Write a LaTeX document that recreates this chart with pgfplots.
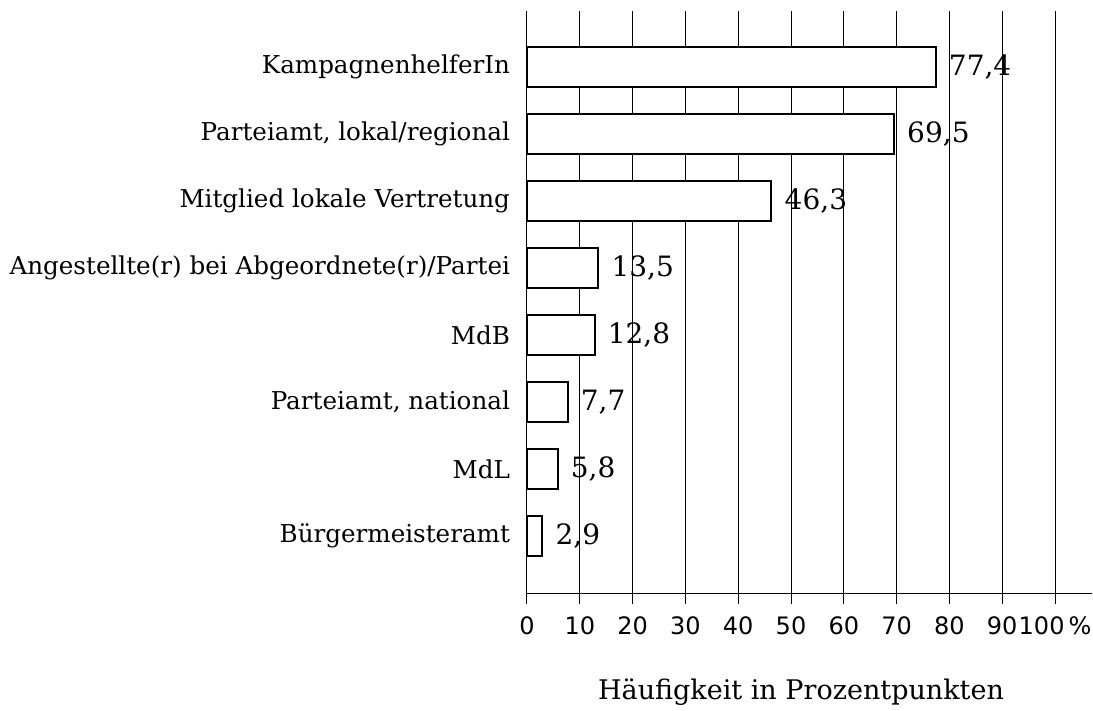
\documentclass[border=0pt]{standalone}
\usepackage{fontspec}
\setmainfont{DejaVu Serif}
\newfontfamily\sansf{DejaVu Sans}
\usepackage{pgfplots}
\pgfplotsset{compat=1.18}
\begin{document}
\begin{tikzpicture}
\useasboundingbox (-263.5pt,-58.5pt) rectangle (283pt,297pt);
\begin{axis}[
  at={(0,0)}, anchor=south west,
  scale only axis,
  width=282.5pt, height=291.5pt,
  xmin=0, xmax=107,
  ymin=-0.866, ymax=7.836,
  axis x line*=bottom,
  axis y line*=left,
  y axis line style={draw=none},
  x axis line style={line width=0.5pt,-},
  xtick={0,10,...,100},
  xticklabels={0,10,20,30,40,50,60,70,80,90,100\,\%},
  tick align=outside,
  major tick length=5pt,
  xtick style={line width=0.5pt,black},
  ytick={0,...,7},
  yticklabels={B\"urgermeisteramt,MdL,{Parteiamt, national},MdB,Angestellte(r) bei Abgeordnete(r)/Partei,Mitglied lokale Vertretung,{Parteiamt, lokal/regional},KampagnenhelferIn},
  ytick style={draw=none},
  xmajorgrids,
  grid style={line width=0.5pt,black},
  xticklabel style={font=\sansf\fontsize{12pt}{14pt}\selectfont, yshift=-3pt},
  yticklabel style={font=\fontsize{12.3pt}{14pt}\selectfont, anchor=east},
  xlabel={H\"aufigkeit in Prozentpunkten},
  xlabel style={font=\fontsize{13.5pt}{16pt}\selectfont, at={(rel axis cs:0.485,0)}, anchor=base, yshift=-53pt},
  xbar, bar width=0.59,
  point meta=explicit symbolic,
  nodes near coords,
  nodes near coords style={font=\fontsize{14pt}{16pt}\selectfont, anchor=west, xshift=2.8pt},
  clip=false,
]
\addplot[draw=black, fill=white, line width=1pt] table[meta=label] {
x y label
77.4 7 77,4
69.5 6 69,5
46.3 5 46,3
13.5 4 13,5
12.8 3 12,8
7.7 2 7,7
5.8 1 5,8
2.9 0 2,9
};
\end{axis}
\end{tikzpicture}
\end{document}
